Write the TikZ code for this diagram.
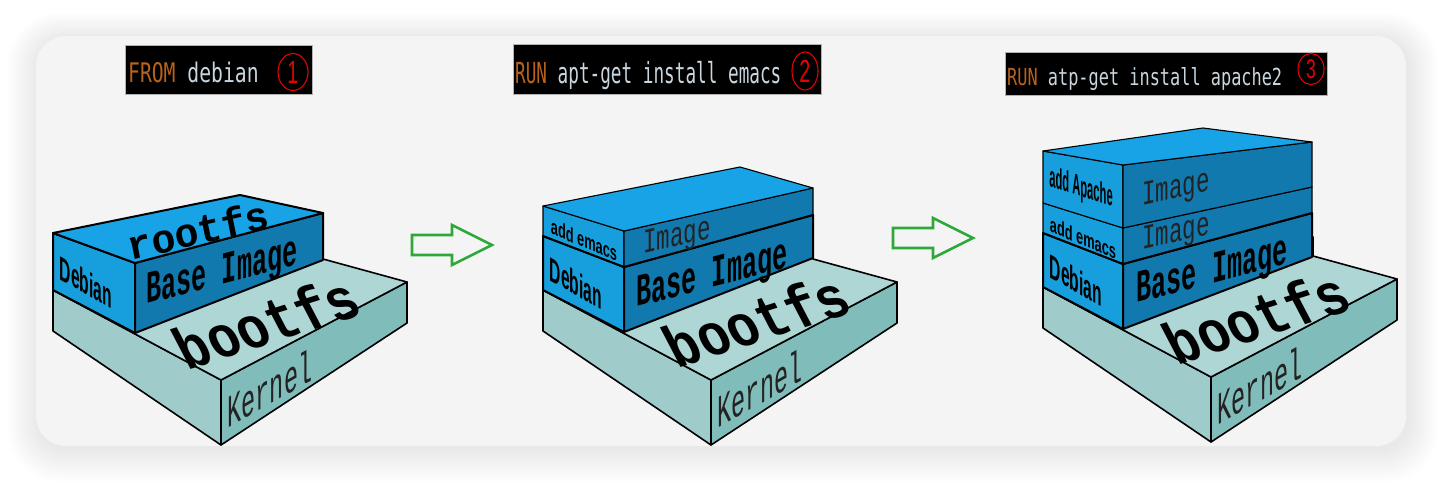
\documentclass[tikz,border=0pt]{standalone}
\usepackage{fontspec}
\setmainfont{Liberation Sans}
\newfontfamily\monof{Liberation Mono}
\newfontfamily\termf{DejaVu Sans Mono}
\usetikzlibrary{shapes.geometric}
\definecolor{ktop}{HTML}{AED6D5}
\definecolor{kleft}{HTML}{9FCBCA}
\definecolor{kright}{HTML}{80BCB9}
\definecolor{btop}{HTML}{17A3E6}
\definecolor{bleft}{HTML}{179FDD}
\definecolor{bfront}{HTML}{1179AE}
\definecolor{framebg}{HTML}{F4F4F4}
\definecolor{arrowgreen}{HTML}{2EA83A}
\definecolor{kworange}{HTML}{B8621B}
\definecolor{cmdtext}{HTML}{C9D6DF}
\definecolor{circred}{HTML}{E60000}
\definecolor{thintext}{HTML}{222222}
\newcommand\drawkernelbox{%
  \draw[kleftface] (53,290) -- (221,380) -- (221,445) -- (53,331) -- cycle;
  \draw[krightface] (221,380) -- (407,282) -- (407,323) -- (221,445) -- cycle;
  \draw[ktopface] (53,290) -- (221,380) -- (407,282) -- (323,259) -- (323,240) -- (53,250) -- cycle;
}
\begin{document}
\begin{tikzpicture}[x=1pt,y=-1pt,
  kleftface/.style={fill=kleft,draw=black,line width=1.6pt,line join=round},
  krightface/.style={fill=kright,draw=black,line width=1.6pt,line join=round},
  ktopface/.style={fill=ktop,draw=black,line width=1.6pt,line join=round},
  bleftface/.style={fill=bleft,draw=black,line width=2pt,line join=round},
  bfrontface/.style={fill=bfront,draw=black,line width=2pt,line join=round},
  btopface/.style={fill=btop,draw=black,line width=2pt,line join=round},
  uleftface/.style={fill=bleft,draw=black,line width=1.1pt,line join=round},
  ufrontface/.style={fill=bfront,draw=black,line width=1.1pt,line join=round},
  utopface/.style={fill=btop,draw=black,line width=1.1pt,line join=round},
  bigarrow/.style={draw=arrowgreen,line width=2.6pt,fill=framebg,line join=miter},
  cmdbox/.style={fill=black,draw=gray!60,line width=0.6pt},
  cmdtxt/.style={anchor=base west,inner sep=0pt,text=cmdtext},
  circnum/.style={ellipse,draw=circred,line width=1.1pt,inner sep=0pt},
  numtxt/.style={inner sep=0pt,text=circred},
  rootlbl/.style={inner sep=0pt,font=\monof\bfseries\fontsize{40}{40}\selectfont,
    cm={0.974,0.225,-0.2,1.0,(0,0)}},
  baselbl/.style={inner sep=0pt,font=\monof\bfseries\fontsize{26}{26}\selectfont,
    cm={0.967,0.254,0,1.75,(0,0)}},
  bootlbl/.style={inner sep=0pt,font=\monof\bfseries\fontsize{52}{52}\selectfont,
    cm={0.95,0.30,-0.55,1.05,(0,0)}},
  kernlbl/.style={inner sep=0pt,text=thintext,font=\monof\fontsize{27}{27}\selectfont,
    cm={0.868,0.497,0,1.7,(0,0)}},
  imglbl/.style={inner sep=0pt,text=thintext,font=\monof\fontsize{23}{23}\selectfont,
    cm={0.978,0.21,0,1.5,(0,0)}},
  deblbl/.style={inner sep=0pt,font=\bfseries\fontsize{34}{34}\selectfont,
    cm={0.46,-0.265,0,1,(0,0)}},
  emacslbl/.style={inner sep=0pt,font=\bfseries\fontsize{21}{21}\selectfont,
    cm={0.61,-0.25,0,1,(0,0)}},
  apachelbl/.style={inner sep=0pt,font=\bfseries\fontsize{28}{28}\selectfont,
    cm={0.40,-0.125,0,1.05,(0,0)}}
]
\useasboundingbox (0,0) rectangle (1442,482);
\fill[white] (0,0) rectangle (1442,482);
% soft shadow
\foreach \i in {1,...,22}{
  \fill[black,opacity=0.0042,rounded corners={30+\i}]
    (36-1.4*\i+2,36-1.2*\i+3) rectangle (1406+1.4*\i+2,446+1.5*\i+3);
}
\fill[framebg,rounded corners=30] (36,36) rectangle (1406,446);

% ---------- command boxes ----------
\draw[cmdbox] (125,45) rectangle (312,94);
\node[cmdtxt,font=\termf\fontsize{27}{27}\selectfont,xscale=0.73] (cmd1) at (128,82)
  {\textcolor{kworange}{FROM} debian};
\node[circnum,minimum width=30,minimum height=37] (c1) at (293,72) {};
\node[numtxt,font=\fontsize{32}{32}\selectfont,xscale=0.62] (n1) at (293,72) {1};

\draw[cmdbox] (513,44) rectangle (821,94);
\node[cmdtxt,font=\termf\fontsize{29}{29}\selectfont,xscale=0.61] (cmd2) at (515,83)
  {\textcolor{kworange}{RUN} apt-get install emacs};
\node[circnum,minimum width=26,minimum height=38] (c2) at (805,71) {};
\node[numtxt,font=\fontsize{32}{32}\selectfont,xscale=0.62] (n2) at (805,71) {2};

\draw[cmdbox] (1005,52) rectangle (1327,95);
\node[cmdtxt,font=\termf\fontsize{23.5}{23.5}\selectfont,xscale=0.72] (cmd3) at (1007,85)
  {\textcolor{kworange}{RUN} atp-get install apache2};
\node[circnum,minimum width=26,minimum height=31] (c3) at (1311,69) {};
\node[numtxt,font=\fontsize{27}{27}\selectfont,xscale=0.65] (n3) at (1311,69) {3};

% ---------- arrows ----------
\draw[bigarrow] (412,235) -- (452,235) -- (452,225) -- (492,245) -- (452,265) -- (452,255) -- (412,255) -- cycle;
\draw[bigarrow] (893,228) -- (933,228) -- (933,218) -- (973,238) -- (933,258) -- (933,248) -- (893,248) -- cycle;

% ---------- stack 1 ----------
\drawkernelbox
\draw[bleftface] (53,233) -- (135,263) -- (135,333) -- (53,290) -- cycle;
\draw[bfrontface] (135,263) -- (323,213) -- (323,260) -- (135,333) -- cycle;
\draw[btopface] (53,233) -- (240,195) -- (323,213) -- (135,263) -- cycle;
\node[rootlbl] (rootfs1) at (198,230) {rootfs};
\node[baselbl] (base1) at (222,274) {Base Image};
\node[bootlbl] (boot1) at (266,322) {bootfs};
\node[kernlbl] (kern1) at (270,388) {Kernel};
\node[deblbl] (deb1) at (86,282) {Debian};

% ---------- stack 2 ----------
\begin{scope}[shift={(490,0)}]
\drawkernelbox
\draw[bleftface] (53,236) -- (134,267) -- (134,332) -- (53,290) -- cycle;
\draw[bfrontface] (134,267) -- (323,215) -- (323,258) -- (134,332) -- cycle;
\draw[uleftface] (53,206) -- (134,231) -- (134,267) -- (53,236) -- cycle;
\draw[ufrontface] (134,231) -- (323,188) -- (323,215) -- (134,267) -- cycle;
\draw[utopface] (53,206) -- (250,167) -- (323,188) -- (134,231) -- cycle;
\draw[black,line width=2pt,line join=round] (53,236) -- (134,267) -- (323,215);
\node[deblbl] (deb2) at (86,283) {Debian};
\node[emacslbl] (emacs2) at (94,240) {add emacs};
\node[imglbl] (img2) at (187,238) {Image};
\node[baselbl] (base2) at (222,277) {Base Image};
\node[bootlbl] (boot2) at (266,320) {bootfs};
\node[kernlbl] (kern2) at (270,388) {Kernel};
\end{scope}

% ---------- stack 3 ----------
\begin{scope}[shift={(990,-3)}]
\drawkernelbox
\draw[bleftface] (53,236) -- (133,267) -- (133,332) -- (53,290) -- cycle;
\draw[bfrontface] (133,267) -- (322,216) -- (322,260) -- (133,332) -- cycle;
\draw[uleftface] (53,206) -- (133,231) -- (133,267) -- (53,236) -- cycle;
\draw[ufrontface] (133,231) -- (322,190) -- (322,216) -- (133,267) -- cycle;
\draw[uleftface] (53,154) -- (133,168) -- (133,231) -- (53,206) -- cycle;
\draw[ufrontface] (133,168) -- (322,145) -- (322,190) -- (133,231) -- cycle;
\draw[utopface] (53,154) -- (213,131) -- (322,145) -- (133,168) -- cycle;
\draw[black,line width=2pt,line join=round] (53,236) -- (133,267) -- (322,216);
\node[apachelbl] (apache3) at (91,192) {add Apache};
\node[emacslbl] (emacs3) at (93,241) {add emacs};
\node[deblbl] (deb3) at (86,283) {Debian};
\node[imglbl] (img3a) at (186,193) {Image};
\node[imglbl] (img3b) at (186,237) {Image};
\node[baselbl] (base3) at (222,276) {Base Image};
\node[bootlbl] (boot3) at (266,320) {bootfs};
\node[kernlbl] (kern3) at (270,388) {Kernel};
\end{scope}
\end{tikzpicture}
\end{document}
